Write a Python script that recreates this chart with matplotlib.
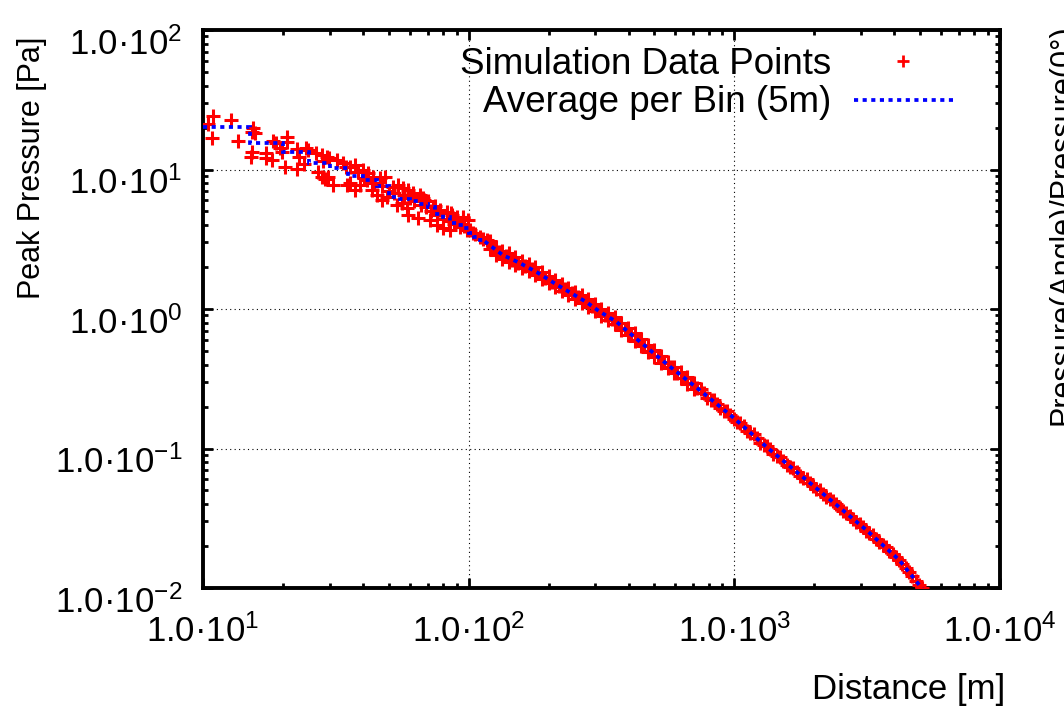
import numpy as np
import matplotlib
matplotlib.use("Agg")
import matplotlib.pyplot as plt
from matplotlib.ticker import FixedLocator, FixedFormatter, LogLocator, NullFormatter
import matplotlib.transforms as mtransforms

plt.rcParams['font.family'] = ['Liberation Sans', 'DejaVu Sans']
plt.rcParams['mathtext.fontset'] = 'custom'
plt.rcParams['mathtext.rm'] = 'Liberation Sans'
plt.rcParams['mathtext.it'] = 'Liberation Sans:italic'
plt.rcParams['mathtext.bf'] = 'Liberation Sans:bold'

# ---------------- data ----------------
# average per 5 m bin (step part, near range)
bin_edges = [10, 15, 20, 25, 30, 35, 40, 45, 50, 55, 60, 65, 70, 75, 80, 85,
             90, 95, 100, 105, 110, 115]
bin_avg = [20.2, 15.5, 13.35, 11.1, 10.25, 8.98, 8.41, 7.61, 6.35, 6.14, 5.95,
           5.66, 5.38, 4.80, 4.56, 4.14, 4.00, 3.81, 3.50, 3.30, 3.10]

# average per bin (far range, bins too narrow to see individually)
avg_dist = [115, 134.2, 155.5, 180.2, 206.9, 239.8, 277.7, 310.7, 360, 414,
            555, 739, 983, 1319, 1756, 2336, 3135, 4172, 5050, 5180]
avg_pressure = [3.05, 2.44, 2.14, 1.84, 1.56, 1.32, 1.12, 0.96, 0.81, 0.645,
                0.405, 0.263, 0.169, 0.103, 0.0655, 0.0418, 0.0261, 0.0159,
                0.0101, 0.0094]

# simulation data points: near field (scattered)
near_dist = [10.90, 10.44, 12.74, 10.81, 13.54, 15.42, 15.69, 15.28, 15.28, 15.15,
             17.25, 17.25, 18.17, 18.33, 18.81, 20.70, 20.70, 19.48, 19.82, 20.34,
             22.56, 22.96, 22.56, 24.40, 24.82, 23.98, 26.60, 28.02, 29.26, 29.77,
             28.26, 27.06, 28.02, 28.75, 29.51, 30.82, 31.91, 33.60, 34.49, 34.78,
             35.69, 37.28, 38.26, 39.95, 41.72, 35.69, 37.28, 38.93, 41.36, 43.57,
             46.29, 48.34, 43.19, 45.10, 47.10, 49.19, 51.81, 54.10, 56.48, 58.98,
             61.59, 65.45, 67.18, 53.63, 55.99, 58.47, 58.98, 64.32, 73.28, 77.88,
             82.69, 86.35, 90.13, 94.94, 99.1, 71.40, 75.85, 79.88, 84.86, 92.51,
             98.28, 103.5, 110.0, 116.9, 119.9,
             40.5, 44, 47, 50, 52.5, 57, 60, 62, 66, 69, 72, 76, 80, 84, 88, 93,
             96, 101, 106, 113, 70, 68, 75, 86, 95]
near_pressure = [24.18, 21.20, 22.63, 16.82, 16.00, 19.84, 18.26, 18.57, 13.35, 12.29,
                 13.13, 12.09, 11.70, 16.00, 15.49, 17.10, 15.74, 14.26, 13.35, 10.42,
                 14.03, 12.29, 10.08, 14.26, 13.80, 10.95, 13.13, 12.70, 12.29, 12.09,
                 11.51, 9.60, 8.84, 8.55, 8.84, 7.74, 11.70, 11.13, 10.42, 7.74,
                 10.42, 10.77, 9.60, 9.92, 9.44, 8.00, 7.13, 7.74, 8.41, 8.84,
                 8.69, 8.84, 7.13, 6.56, 6.05, 6.35, 7.49, 7.74, 7.37, 7.13,
                 6.78, 6.56, 6.25, 5.57, 5.75, 5.30, 4.72, 4.49, 5.38, 5.13,
                 4.96, 4.72, 4.56, 4.49, 4.34, 4.34, 4.00, 3.81, 3.68, 3.87,
                 3.68, 3.51, 3.28, 3.12, 2.97,
                 8.7, 8.0, 7.6, 7.0, 6.8, 6.6, 6.2, 5.9, 5.6, 5.4, 5.0, 4.7, 4.4,
                 4.25, 4.1, 4.1, 3.95, 3.7, 3.45, 3.2, 5.9, 6.0, 5.5, 4.9, 4.6]

# simulation data points: band, upper / lower edge
band_dist = [120, 127, 134, 142, 150, 159, 168, 178, 189, 200, 212, 224, 237, 251,
             266, 282, 298, 316, 335, 355, 376, 398, 421, 446, 472, 500, 530, 561,
             594, 629, 666, 705]
band_upper = [3.05, 2.80, 2.62, 2.50, 2.36, 2.22, 2.10, 1.99, 1.85, 1.72, 1.62, 1.52,
              1.42, 1.33, 1.25, 1.17, 1.08, 1.00, 0.94, 0.87, 0.80, 0.73, 0.67, 0.61,
              0.555, 0.505, 0.46, 0.42, 0.385, 0.352, 0.323, 0.296]
band_lower = [2.70, 2.45, 2.28, 2.18, 2.06, 1.96, 1.86, 1.75, 1.63, 1.53, 1.43, 1.35,
              1.26, 1.18, 1.11, 1.03, 0.96, 0.89, 0.83, 0.78, 0.71, 0.65, 0.59, 0.54,
              0.495, 0.452, 0.412, 0.377, 0.347, 0.318, 0.292, 0.268]
mid_dist = [123, 130, 138, 146, 154, 163, 173, 183, 194, 206, 218, 230, 244, 258, 274,
            290, 307, 325, 345, 365, 387, 409, 433, 459, 486, 515, 545, 577, 611, 647,
            685, 726]
mid_pressure = [2.78, 2.55, 2.38, 2.26, 2.15, 2.03, 1.92, 1.80, 1.68, 1.57, 1.47, 1.38,
                1.30, 1.215, 1.135, 1.055, 0.98, 0.91, 0.85, 0.79, 0.72, 0.66, 0.60,
                0.548, 0.50, 0.457, 0.417, 0.382, 0.350, 0.321, 0.295, 0.270]

# simulation data points: far field (tight band)
far_dist = [747, 768, 791, 814, 838, 862, 887, 913, 940, 967, 995, 1024, 1054, 1085,
            1116, 1149, 1182, 1216, 1252, 1288, 1326, 1364, 1404, 1445, 1487, 1530,
            1575, 1621, 1668, 1716, 1766, 1817, 1870, 1924, 1980, 2038, 2097, 2158,
            2221, 2286, 2352, 2421, 2491, 2564, 2638, 2715, 2794, 2875, 2959, 3045,
            3133, 3224, 3318, 3415, 3514, 3616, 3721, 3830, 3941, 4055, 4173, 4295,
            4420, 4548, 4680, 4817, 4956, 5070, 5180]
far_pressure = [0.265, 0.250, 0.231, 0.224, 0.221, 0.209, 0.194, 0.187, 0.185, 0.175,
                0.162, 0.156, 0.153, 0.145, 0.134, 0.129, 0.126, 0.119, 0.110, 0.106,
                0.104, 0.0985, 0.0915, 0.0885, 0.0865, 0.0820, 0.0765, 0.0737, 0.0720,
                0.0684, 0.0640, 0.0616, 0.0600, 0.0570, 0.0535, 0.0515, 0.0500, 0.0475,
                0.0447, 0.0431, 0.0418, 0.0397, 0.0373, 0.0358, 0.0347, 0.0330, 0.0311,
                0.0299, 0.0289, 0.0274, 0.0258, 0.0248, 0.0239, 0.0226, 0.0212, 0.0203,
                0.0196, 0.0185, 0.0174, 0.0167, 0.0160, 0.0148, 0.0138, 0.0130, 0.0121,
                0.0113, 0.0105, 0.0100, 0.0095]

x_ticks = [10, 100, 1000, 10000]
x_tick_labels = ["1.0·10$^{1}$", "1.0·10$^{2}$", "1.0·10$^{3}$", "1.0·10$^{4}$"]
y_ticks = [0.01, 0.1, 1, 10, 100]
y_tick_labels = ["1.0·10$^{-2}$", "1.0·10$^{-1}$", "1.0·10$^{0}$",
                 "1.0·10$^{1}$", "1.0·10$^{2}$"]

label_points = "Simulation Data Points"
label_avg = "Average per Bin (5m)"

# ---------------- figure ----------------
W, H = 1064, 718
fig = plt.figure(figsize=(W / 100, H / 100), dpi=100)
ax = fig.add_axes([203 / W, 1 - 588 / H, 797 / W, 558 / H])
ax.set_xscale('log')
ax.set_yscale('log')
ax.set_xlim(10, 10000)
ax.set_ylim(0.01, 100)

red = '#ff0000'
blue = '#0000ff'
mk = dict(linestyle='none', marker='+', color=red, markersize=9.5, mew=2.2, zorder=3)

all_dist = near_dist + band_dist + band_dist + mid_dist + far_dist
all_pressure = near_pressure + band_upper + band_lower + mid_pressure + far_pressure
pts, = ax.plot(all_dist, all_pressure, label=label_points, **mk)

dot = (0, (1.1, 1.2))
ax.stairs(bin_avg, bin_edges, baseline=None, color=blue, linewidth=2.7,
          linestyle=dot, zorder=4)
ax.plot(avg_dist, avg_pressure, color=blue, linewidth=2.7, linestyle=dot,
        zorder=4, label=label_avg)

# grid
ax.grid(True, which='major', color='black', linestyle=(0, (1, 3)), linewidth=0.8)
ax.set_axisbelow(True)

# ticks
ax.xaxis.set_major_locator(FixedLocator(x_ticks))
ax.xaxis.set_major_formatter(FixedFormatter(x_tick_labels))
ax.yaxis.set_major_locator(FixedLocator(y_ticks))
ax.yaxis.set_major_formatter(FixedFormatter(y_tick_labels))
ax.xaxis.set_minor_locator(LogLocator(base=10, subs=np.arange(2, 10), numticks=20))
ax.yaxis.set_minor_locator(LogLocator(base=10, subs=np.arange(2, 10), numticks=20))
ax.xaxis.set_minor_formatter(NullFormatter())
ax.yaxis.set_minor_formatter(NullFormatter())
ax.tick_params(which='both', direction='in', top=True, right=True, colors='black')
ax.tick_params(which='major', length=7, width=2.0, labelsize=25)
ax.tick_params(which='minor', length=3.5, width=2.0)
ax.tick_params(axis='x', which='major', pad=19)
ax.tick_params(axis='y', which='major', pad=15)

offset = mtransforms.ScaledTranslation(0, -11 / 100, fig.dpi_scale_trans)
for lbl in ax.get_yticklabels():
    lbl.set_transform(lbl.get_transform() + offset)

for sp in ax.spines.values():
    sp.set_linewidth(2.8)
    sp.set_color('black')

# legend
leg = ax.legend(loc='upper right', bbox_to_anchor=(0.941, 0.97), frameon=False,
                markerfirst=False, fontsize=26.5, handlelength=2.7,
                handletextpad=0.6, labelspacing=0.1, borderpad=0,
                borderaxespad=0, numpoints=1)
for h in leg.legend_handles:
    if h.get_marker() == '+':
        h.set_markersize(8)
        h.set_markeredgewidth(2)

# axis titles
fig.text(32 / W, 1 - 168 / H, "Peak Pressure [Pa]", rotation=90, ha='center',
         va='center', fontsize=22)
fig.text(909 / W, 1 - 690 / H, "Distance [m]", ha='center', va='center',
         fontsize=25)
fig.text(1047 / W, 1 - 225 / H, "Pressure(Angle)/Pressure(0°)", rotation=90,
         ha='left', va='center', fontsize=22)

fig.savefig('out.png', dpi=100)
